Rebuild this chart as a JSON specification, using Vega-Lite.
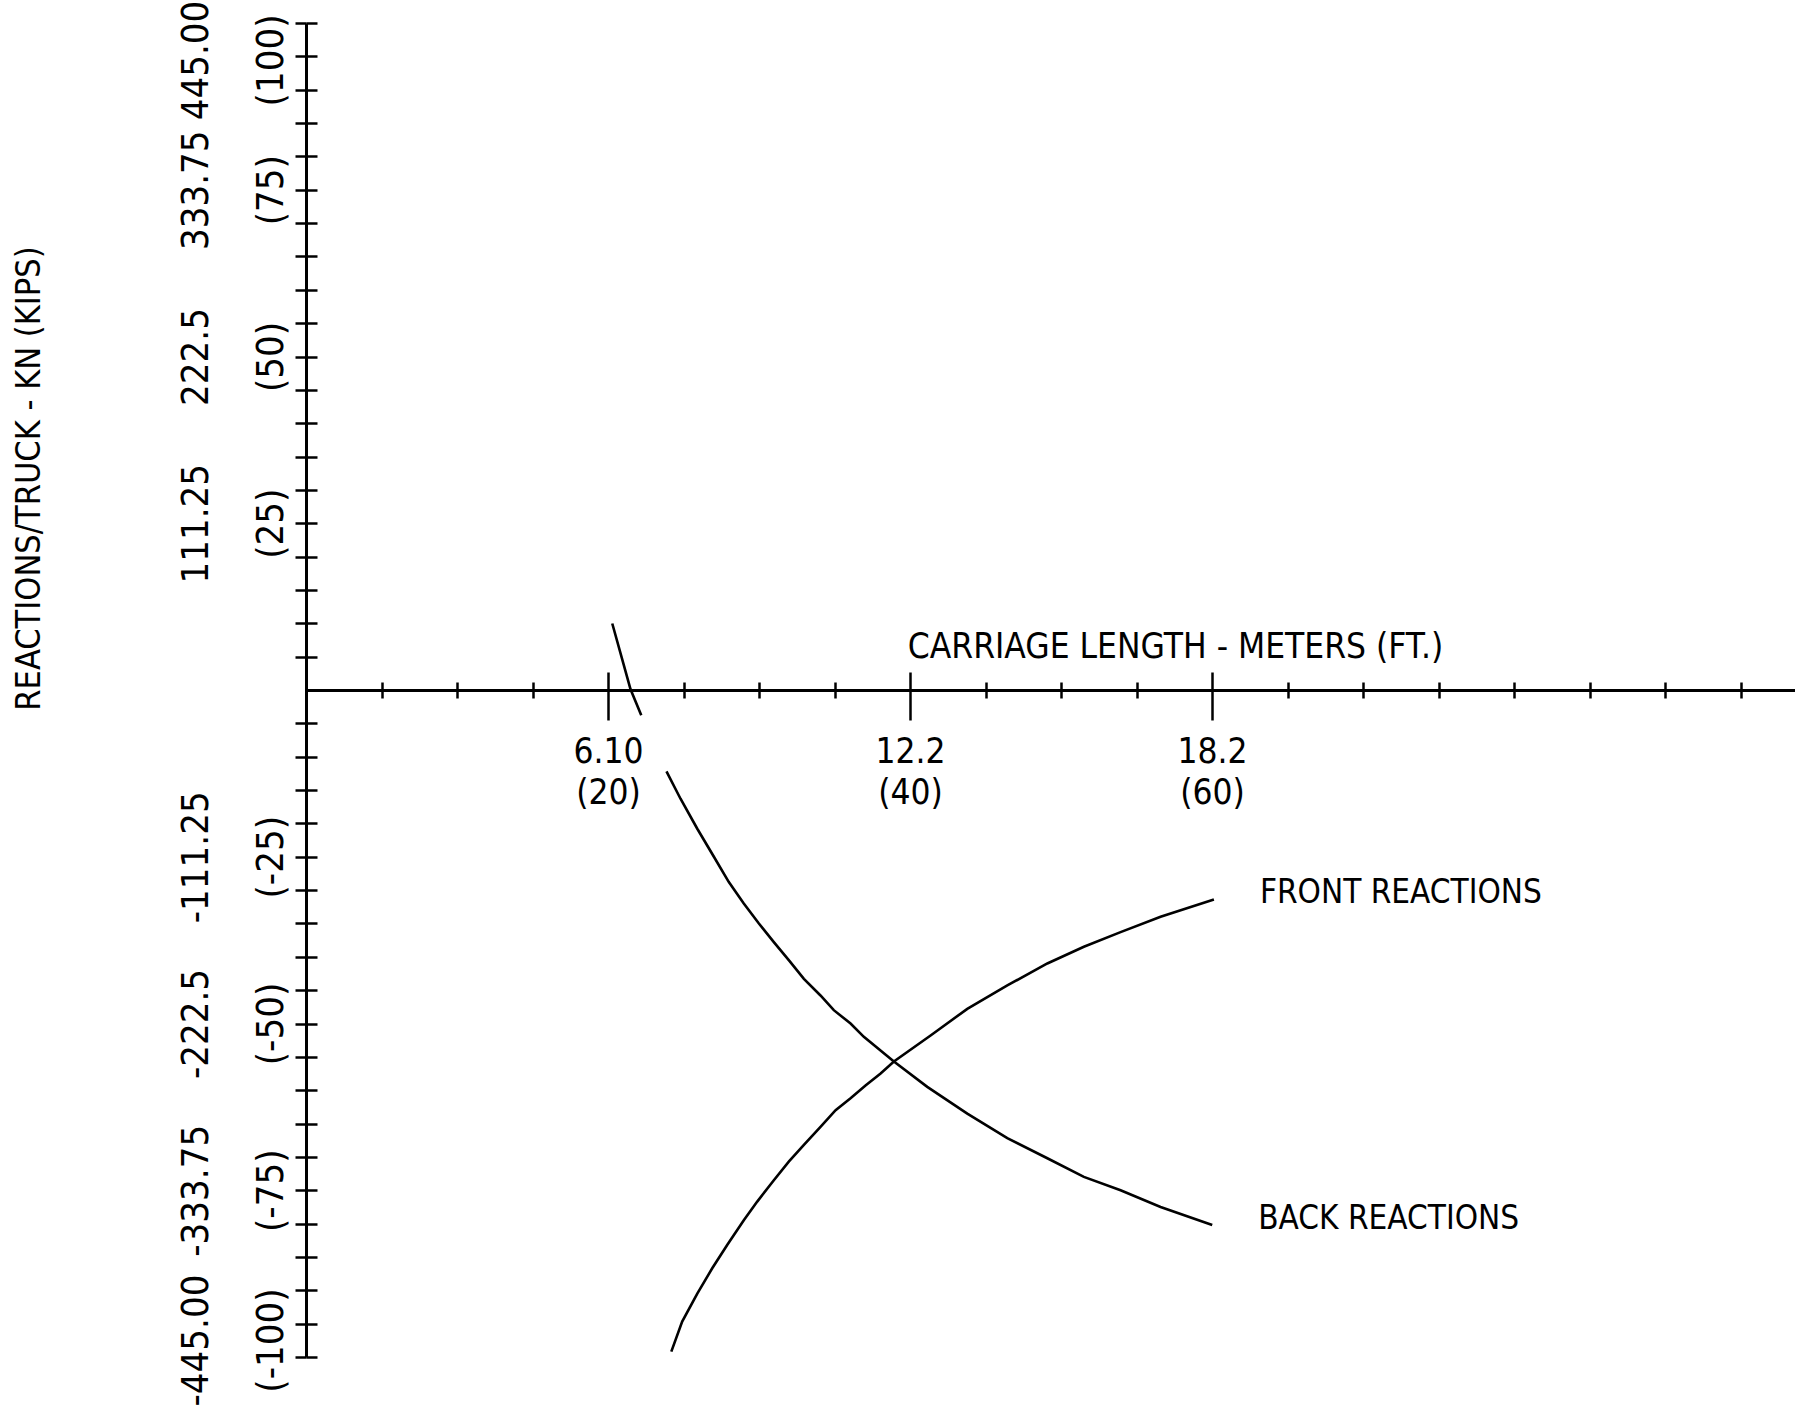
{
  "$schema": "https://vega.github.io/schema/vega-lite/v6.json",
  "width": 1489,
  "height": 1334,
  "autosize": {"type": "none"},
  "padding": {"left": 306, "top": 23, "right": 0, "bottom": 54},
  "background": "white",
  "config": {
    "view": {"stroke": null},
    "font": "DejaVu Sans Condensed, Liberation Sans, sans-serif",
    "axis": {
      "grid": false,
      "domainColor": "black",
      "tickColor": "black",
      "labelColor": "black",
      "titleColor": "black",
      "labelFont": "DejaVu Sans Condensed, Liberation Sans, sans-serif",
      "titleFont": "DejaVu Sans Condensed, Liberation Sans, sans-serif",
      "titleFontWeight": "normal"
    }
  },
  "data": {
    "values": [
      {"series": "FRONT REACTIONS", "part": "a", "ft": 24.19, "kips": -99.2},
      {"series": "FRONT REACTIONS", "part": "a", "ft": 24.91, "kips": -94.7},
      {"series": "FRONT REACTIONS", "part": "a", "ft": 25.91, "kips": -90.5},
      {"series": "FRONT REACTIONS", "part": "a", "ft": 26.90, "kips": -86.7},
      {"series": "FRONT REACTIONS", "part": "a", "ft": 27.89, "kips": -83.2},
      {"series": "FRONT REACTIONS", "part": "a", "ft": 28.99, "kips": -79.5},
      {"series": "FRONT REACTIONS", "part": "a", "ft": 29.88, "kips": -76.7},
      {"series": "FRONT REACTIONS", "part": "a", "ft": 30.98, "kips": -73.5},
      {"series": "FRONT REACTIONS", "part": "a", "ft": 31.97, "kips": -70.7},
      {"series": "FRONT REACTIONS", "part": "a", "ft": 32.97, "kips": -68.2},
      {"series": "FRONT REACTIONS", "part": "a", "ft": 34.07, "kips": -65.5},
      {"series": "FRONT REACTIONS", "part": "a", "ft": 35.07, "kips": -63.0},
      {"series": "FRONT REACTIONS", "part": "a", "ft": 36.06, "kips": -61.2},
      {"series": "FRONT REACTIONS", "part": "a", "ft": 37.05, "kips": -59.3},
      {"series": "FRONT REACTIONS", "part": "a", "ft": 38.05, "kips": -57.5},
      {"series": "FRONT REACTIONS", "part": "a", "ft": 38.93, "kips": -55.7},
      {"series": "FRONT REACTIONS", "part": "a", "ft": 41.36, "kips": -51.8},
      {"series": "FRONT REACTIONS", "part": "a", "ft": 43.79, "kips": -47.8},
      {"series": "FRONT REACTIONS", "part": "a", "ft": 46.44, "kips": -44.3},
      {"series": "FRONT REACTIONS", "part": "a", "ft": 49.09, "kips": -41.0},
      {"series": "FRONT REACTIONS", "part": "a", "ft": 51.51, "kips": -38.5},
      {"series": "FRONT REACTIONS", "part": "a", "ft": 53.94, "kips": -36.3},
      {"series": "FRONT REACTIONS", "part": "a", "ft": 56.59, "kips": -34.0},
      {"series": "FRONT REACTIONS", "part": "a", "ft": 60.12, "kips": -31.4},
      {"series": "BACK REACTIONS", "part": "a", "ft": 20.28, "kips": 9.97},
      {"series": "BACK REACTIONS", "part": "a", "ft": 21.05, "kips": 3.7},
      {"series": "BACK REACTIONS", "part": "a", "ft": 21.49, "kips": 0.1},
      {"series": "BACK REACTIONS", "part": "a", "ft": 22.20, "kips": -3.8},
      {"series": "BACK REACTIONS", "part": "b", "ft": 23.87, "kips": -12.2},
      {"series": "BACK REACTIONS", "part": "b", "ft": 24.80, "kips": -16.3},
      {"series": "BACK REACTIONS", "part": "b", "ft": 25.91, "kips": -20.8},
      {"series": "BACK REACTIONS", "part": "b", "ft": 27.01, "kips": -25.0},
      {"series": "BACK REACTIONS", "part": "b", "ft": 28.00, "kips": -28.8},
      {"series": "BACK REACTIONS", "part": "b", "ft": 28.99, "kips": -32.0},
      {"series": "BACK REACTIONS", "part": "b", "ft": 29.99, "kips": -35.0},
      {"series": "BACK REACTIONS", "part": "b", "ft": 30.98, "kips": -37.8},
      {"series": "BACK REACTIONS", "part": "b", "ft": 31.97, "kips": -40.5},
      {"series": "BACK REACTIONS", "part": "b", "ft": 32.97, "kips": -43.3},
      {"series": "BACK REACTIONS", "part": "b", "ft": 34.07, "kips": -45.8},
      {"series": "BACK REACTIONS", "part": "b", "ft": 34.95, "kips": -48.0},
      {"series": "BACK REACTIONS", "part": "b", "ft": 36.06, "kips": -50.0},
      {"series": "BACK REACTIONS", "part": "b", "ft": 36.94, "kips": -52.0},
      {"series": "BACK REACTIONS", "part": "b", "ft": 38.93, "kips": -55.7},
      {"series": "BACK REACTIONS", "part": "b", "ft": 41.14, "kips": -59.5},
      {"series": "BACK REACTIONS", "part": "b", "ft": 43.79, "kips": -63.5},
      {"series": "BACK REACTIONS", "part": "b", "ft": 46.44, "kips": -67.2},
      {"series": "BACK REACTIONS", "part": "b", "ft": 49.09, "kips": -70.2},
      {"series": "BACK REACTIONS", "part": "b", "ft": 51.51, "kips": -73.0},
      {"series": "BACK REACTIONS", "part": "b", "ft": 53.94, "kips": -75.0},
      {"series": "BACK REACTIONS", "part": "b", "ft": 56.59, "kips": -77.5},
      {"series": "BACK REACTIONS", "part": "b", "ft": 60.01, "kips": -80.2}
    ]
  },
  "layer": [
    {
      "mark": {"type": "line", "color": "black", "strokeWidth": 2.6},
      "encoding": {
        "x": {
          "field": "ft",
          "type": "quantitative",
          "scale": {"domain": [0, 98.6], "nice": false, "zero": false},
          "axis": {
            "orient": "bottom",
            "offset": -667,
            "values": [5, 10, 15, 20, 25, 30, 35, 40, 45, 50, 55, 60, 65, 70, 75, 80, 85, 90, 95],
            "domainWidth": 3,
            "tickWidth": 2.5,
            "tickSize": {"condition": {"test": "datum.value === 20 || datum.value === 40 || datum.value === 60", "value": 30}, "value": 8},
            "labelExpr": "datum.value === 20 ? ['6.10','(20)'] : datum.value === 40 ? ['12.2','(40)'] : datum.value === 60 ? ['18.2','(60)'] : ''",
            "labelAngle": 0,
            "labelFontSize": 35,
            "labelLineHeight": 41,
            "labelPadding": 14,
            "labelOverlap": false,
            "labelFlush": false,
            "title": null
          }
        },
        "y": {
          "field": "kips",
          "type": "quantitative",
          "scale": {"domain": [-100, 100], "nice": false, "zero": false},
          "axis": {
            "orient": "left",
            "values": [-100, -95, -90, -85, -80, -75, -70, -65, -60, -55, -50, -45, -40, -35, -30, -25, -20, -15, -10, -5, 5, 10, 15, 20, 25, 30, 35, 40, 45, 50, 55, 60, 65, 70, 75, 80, 85, 90, 95, 100],
            "domainWidth": 3,
            "tickWidth": 2.5,
            "tickSize": 11,
            "labelExpr": "datum.value === 100 ? ['445.00','(100)'] : datum.value === 75 ? ['333.75','(75)'] : datum.value === 50 ? ['222.5','(50)'] : datum.value === 25 ? ['111.25','(25)'] : datum.value === -25 ? ['-111.25','(-25)'] : datum.value === -50 ? ['-222.5','(-50)'] : datum.value === -75 ? ['-333.75','(-75)'] : datum.value === -100 ? ['-445.00','(-100)'] : ''",
            "labelAngle": 270,
            "labelAlign": "center",
            "labelBaseline": "bottom",
            "labelFontSize": 38,
            "labelLineHeight": 75,
            "labelPadding": 80,
            "labelOverlap": false,
            "labelFlush": false,
            "labelOffset": {"condition": [{"test": "datum.value === 100", "value": 37}, {"test": "datum.value === -100", "value": -17}], "value": 0},
            "title": "REACTIONS/TRUCK - KN (KIPS)",
            "titleFontSize": 34,
            "titleAngle": 270,
            "titleX": -277,
            "titleY": 455,
            "titleAlign": "center",
            "titleBaseline": "middle"
          }
        },
        "detail": [{"field": "series"}, {"field": "part"}],
        "order": {"field": "ft", "type": "quantitative"}
      }
    },
    {
      "transform": [
        {"joinaggregate": [{"op": "max", "field": "ft", "as": "maxft"}], "groupby": ["series"]},
        {"filter": "datum.ft === datum.maxft"}
      ],
      "mark": {"type": "text", "align": "left", "baseline": "middle", "dx": 46, "dy": -6, "fontSize": 33, "color": "black"},
      "encoding": {
        "x": {
          "field": "ft",
          "type": "quantitative",
          "axis": {
            "orient": "top",
            "offset": -667,
            "values": [5, 10, 15, 20, 25, 30, 35, 40, 45, 50, 55, 60, 65, 70, 75, 80, 85, 90, 95],
            "domain": false,
            "labels": false,
            "tickWidth": 2.5,
            "tickSize": {"condition": {"test": "datum.value === 20 || datum.value === 40 || datum.value === 60", "value": 18}, "value": 8},
            "title": "CARRIAGE LENGTH - METERS (FT.)",
            "titleFontSize": 35,
            "titleX": 869,
            "titleAlign": "center",
            "titlePadding": 6
          }
        },
        "y": {
          "field": "kips",
          "type": "quantitative",
          "axis": {
            "orient": "right",
            "offset": -1489,
            "values": [-100, -95, -90, -85, -80, -75, -70, -65, -60, -55, -50, -45, -40, -35, -30, -25, -20, -15, -10, -5, 5, 10, 15, 20, 25, 30, 35, 40, 45, 50, 55, 60, 65, 70, 75, 80, 85, 90, 95, 100],
            "domain": false,
            "labels": false,
            "tickWidth": 2.5,
            "tickSize": 11,
            "title": null
          }
        },
        "text": {"field": "series"}
      }
    }
  ],
  "resolve": {"axis": {"x": "independent", "y": "independent"}}
}
